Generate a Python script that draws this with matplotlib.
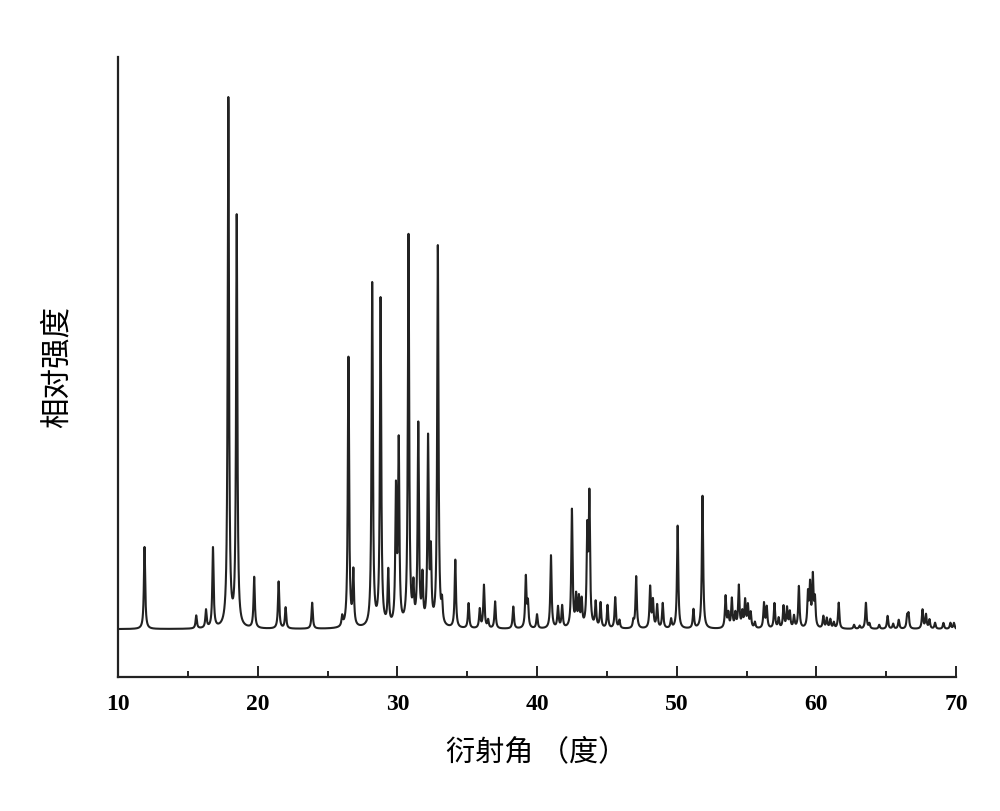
import matplotlib
matplotlib.use("Agg")
import matplotlib.pyplot as plt
import numpy as np

# peak positions (2theta, degrees) and heights
peak_pos = [11.9, 15.6, 16.3, 16.8, 17.9, 18.5, 19.75, 21.5, 22.0, 23.9,
            26.05, 26.5, 26.85, 28.2, 28.8, 29.35, 29.9, 30.1, 30.8, 31.15,
            31.5, 31.8, 32.2, 32.4, 32.9, 33.2, 34.15, 35.1, 35.9, 36.2,
            36.5, 37.0, 38.3, 39.2, 39.35, 40.0, 41.0, 41.5, 41.8, 42.5,
            42.8, 43.0, 43.2, 43.6, 43.75, 44.2, 44.55, 45.05, 45.6, 45.9,
            46.9, 47.1, 48.1, 48.3, 48.6, 49.0, 49.6, 50.07, 51.2, 51.85,
            53.5, 53.7, 53.95, 54.2, 54.45, 54.7, 54.9, 55.1, 55.3, 55.6,
            56.25, 56.45, 57.0, 57.3, 57.65, 57.9, 58.1, 58.4, 58.75, 59.4,
            59.55, 59.75, 59.9, 60.5, 60.75, 61.0, 61.25, 61.6, 62.7, 63.1,
            63.55, 63.8, 64.5, 65.1, 65.5, 65.9, 66.5, 66.6, 67.6, 67.85,
            68.1, 68.5, 69.1, 69.6, 69.85]
peak_int = [82, 13, 18, 80, 528, 410, 51, 47, 21, 26,
            10, 270, 54, 343, 327, 54, 132, 180, 390, 35,
            200, 46, 185, 68, 380, 20, 68, 25, 19, 43,
            8, 27, 22, 51, 24, 14, 73, 21, 22, 118,
            30, 28, 26, 92, 128, 25, 25, 23, 31, 8,
            7, 52, 41, 27, 23, 25, 9, 103, 19, 133,
            32, 14, 29, 14, 42, 15, 27, 22, 15, 6,
            25, 21, 25, 10, 22, 20, 16, 12, 42, 33,
            41, 50, 27, 12, 10, 9, 6, 26, 4, 3,
            26, 5, 4, 13, 5, 9, 12, 14, 19, 14,
            9, 6, 6, 6, 6]

baseline = 48
hwhm = 0.055

tt = np.arange(10, 70.0001, 0.004)
y = np.full_like(tt, baseline, dtype=float)
for p, h in zip(peak_pos, peak_int):
    y += h * hwhm**2 / ((tt - p)**2 + hwhm**2)

fig = plt.figure(figsize=(10, 8.11), dpi=100)
ax = fig.add_axes([0.118, 0.165, 0.838, 0.765])
ax.plot(tt, y, color="#222222", lw=1.5)

ax.set_xlim(10, 70)
ax.set_ylim(0, 620)
for s in ["top", "right"]:
    ax.spines[s].set_visible(False)
for s in ["left", "bottom"]:
    ax.spines[s].set_linewidth(1.6)
    ax.spines[s].set_color("#222222")

ax.set_xticks(range(10, 71, 10))
ax.set_xticks(range(15, 70, 10), minor=True)
ax.set_yticks([])
ax.tick_params(axis="x", which="major", direction="in", length=8, width=1.4,
               color="#222222", pad=12)
ax.tick_params(axis="x", which="minor", direction="in", length=4, width=1.4,
               color="#222222")
for lab in ax.get_xticklabels():
    lab.set_fontfamily("Liberation Serif")
    lab.set_fontweight("bold")
    lab.set_fontsize(17)

ax.set_xlabel("衍射角 （度）", family=["Noto Sans CJK SC", "DejaVu Sans"],
              fontsize=21, labelpad=16)
ax.set_ylabel("相对强度", family=["Noto Sans CJK SC", "DejaVu Sans"],
              fontsize=22, labelpad=33)

fig.savefig("out.png", dpi=100)
